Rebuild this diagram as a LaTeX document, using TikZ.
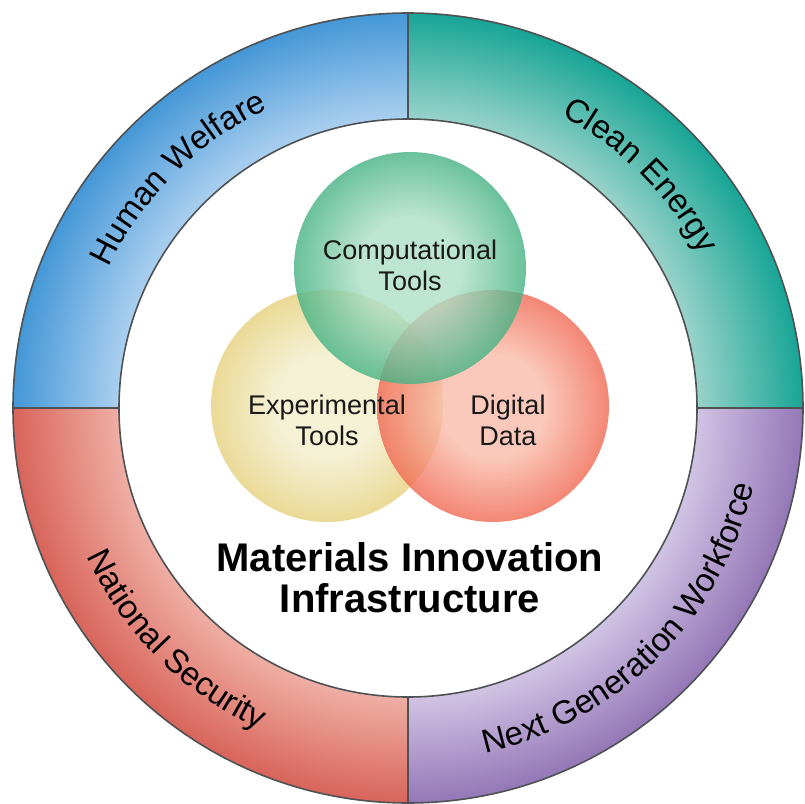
\documentclass[tikz,border=0pt]{standalone}
\usepackage{fontspec}
\setmainfont{Liberation Sans}
\usetikzlibrary{decorations.text}

\definecolor{ringgray}{HTML}{4F5254}
\definecolor{blueOut}{HTML}{4497D7}
\definecolor{blueIn}{HTML}{AACFEF}
\definecolor{tealOut}{HTML}{17A596}
\definecolor{tealIn}{HTML}{98D2C9}
\definecolor{redOut}{HTML}{D8645A}
\definecolor{redIn}{HTML}{EFAEA4}
\definecolor{purpOut}{HTML}{9477B7}
\definecolor{purpIn}{HTML}{D0C3E3}
\definecolor{greenIn}{HTML}{ACDEC6}
\definecolor{greenOut}{HTML}{45B283}
\definecolor{yellowIn}{HTML}{F1EDCB}
\definecolor{yellowOut}{HTML}{E6D07C}
\definecolor{salmonIn}{HTML}{F9BCAA}
\definecolor{salmonOut}{HTML}{F06852}

\colorlet{ringin}{white}
\colorlet{ringout}{black}
\colorlet{vennin}{white}
\colorlet{vennout}{black}
% the middle 50bp square is fitted to the path, so 25bp is the rim
\pgfdeclareradialshading[ringin,ringout]{ring}{\pgfpoint{0bp}{0bp}}{color(0bp)=(ringin); color(18.3bp)=(ringin); color(25bp)=(ringout); color(50bp)=(ringout)}
\pgfdeclareradialshading[vennin,vennout]{venn}{\pgfpoint{0bp}{0bp}}{color(0bp)=(vennin); color(11bp)=(vennin); color(25bp)=(vennout); color(50bp)=(vennout)}

\newcommand{\ringfont}{\fontsize{33}{33}\selectfont}
\newcommand{\vennfont}{\fontsize{27}{31}\selectfont}
\newcommand{\titlefont}{\fontsize{40}{41}\selectfont\bfseries}

\begin{document}
\begin{tikzpicture}[x=1pt,y=1pt,
    ringline/.style={draw=ringgray, line width=1.6pt},
    ringtext/.style={decorate, decoration={text along path, text align=center,
        text={|\ringfont|#1}}},
    vennc/.style={circle, minimum size=232pt, inner sep=0pt,
        fill opacity=0.8, shading=venn},
    vgreen/.style={/utils/exec={\colorlet{vennin}{greenIn}\colorlet{vennout}{greenOut}}},
    vyellow/.style={/utils/exec={\colorlet{vennin}{yellowIn}\colorlet{vennout}{yellowOut}}},
    vsalmon/.style={/utils/exec={\colorlet{vennin}{salmonIn}\colorlet{vennout}{salmonOut}}},
    venntext/.style={align=center, font=\vennfont, text=black!90}]
  \useasboundingbox (-408,-395) rectangle (397,408);

  % outer ring, one quarter per goal
  \foreach \a/\cin/\cout in {90/blueIn/blueOut, 0/tealIn/tealOut,
      180/redIn/redOut, 270/purpIn/purpOut} {
    \begin{scope}
      \clip (\a:289) -- (\a:395) arc[start angle=\a, end angle=\a+90, radius=395]
        -- (\a+90:289) arc[start angle=\a+90, end angle=\a, radius=289] -- cycle;
      \colorlet{ringin}{\cin}
      \colorlet{ringout}{\cout}
      \shade[shading=ring] (0,0) circle[radius=395];
    \end{scope}
  }
  \draw[ringline] (0,0) circle[radius=395];
  \draw[ringline] (0,0) circle[radius=289];
  \draw[ringline] (0,289) -- (0,395);
  \draw[ringline] (0,-289) -- (0,-395);
  \draw[ringline] (289,0) -- (395,0);
  \draw[ringline] (-289,0) -- (-395,0);

  \path[ringtext={Human Welfare}] (180:330) arc[start angle=180, end angle=90, radius=330];
  \path[ringtext={Clean Energy}] (90:330) arc[start angle=90, end angle=0, radius=330];
  \path[ringtext={National Security}] (180:354) arc[start angle=180, end angle=270, radius=354];
  \path[ringtext={Next Generation Workforce}] (270:354) arc[start angle=270, end angle=360, radius=354];

  % venn of the three tools
  \node[vennc, vyellow] (expc) at (-81,2) {};
  \node[vennc, vsalmon] (datac) at (85,2) {};
  \node[vennc, vgreen] (compc) at (2,140) {};

  \node[venntext] (comp) at (2,143) {Computational\\Tools};
  \node[venntext] (exp) at (-81,-12) {Experimental\\Tools};
  \node[venntext] (data) at (100,-12) {Digital\\Data};

  \node[align=center, font=\titlefont] (title) at (2,-170) {Materials Innovation\\Infrastructure};
\end{tikzpicture}
\end{document}
